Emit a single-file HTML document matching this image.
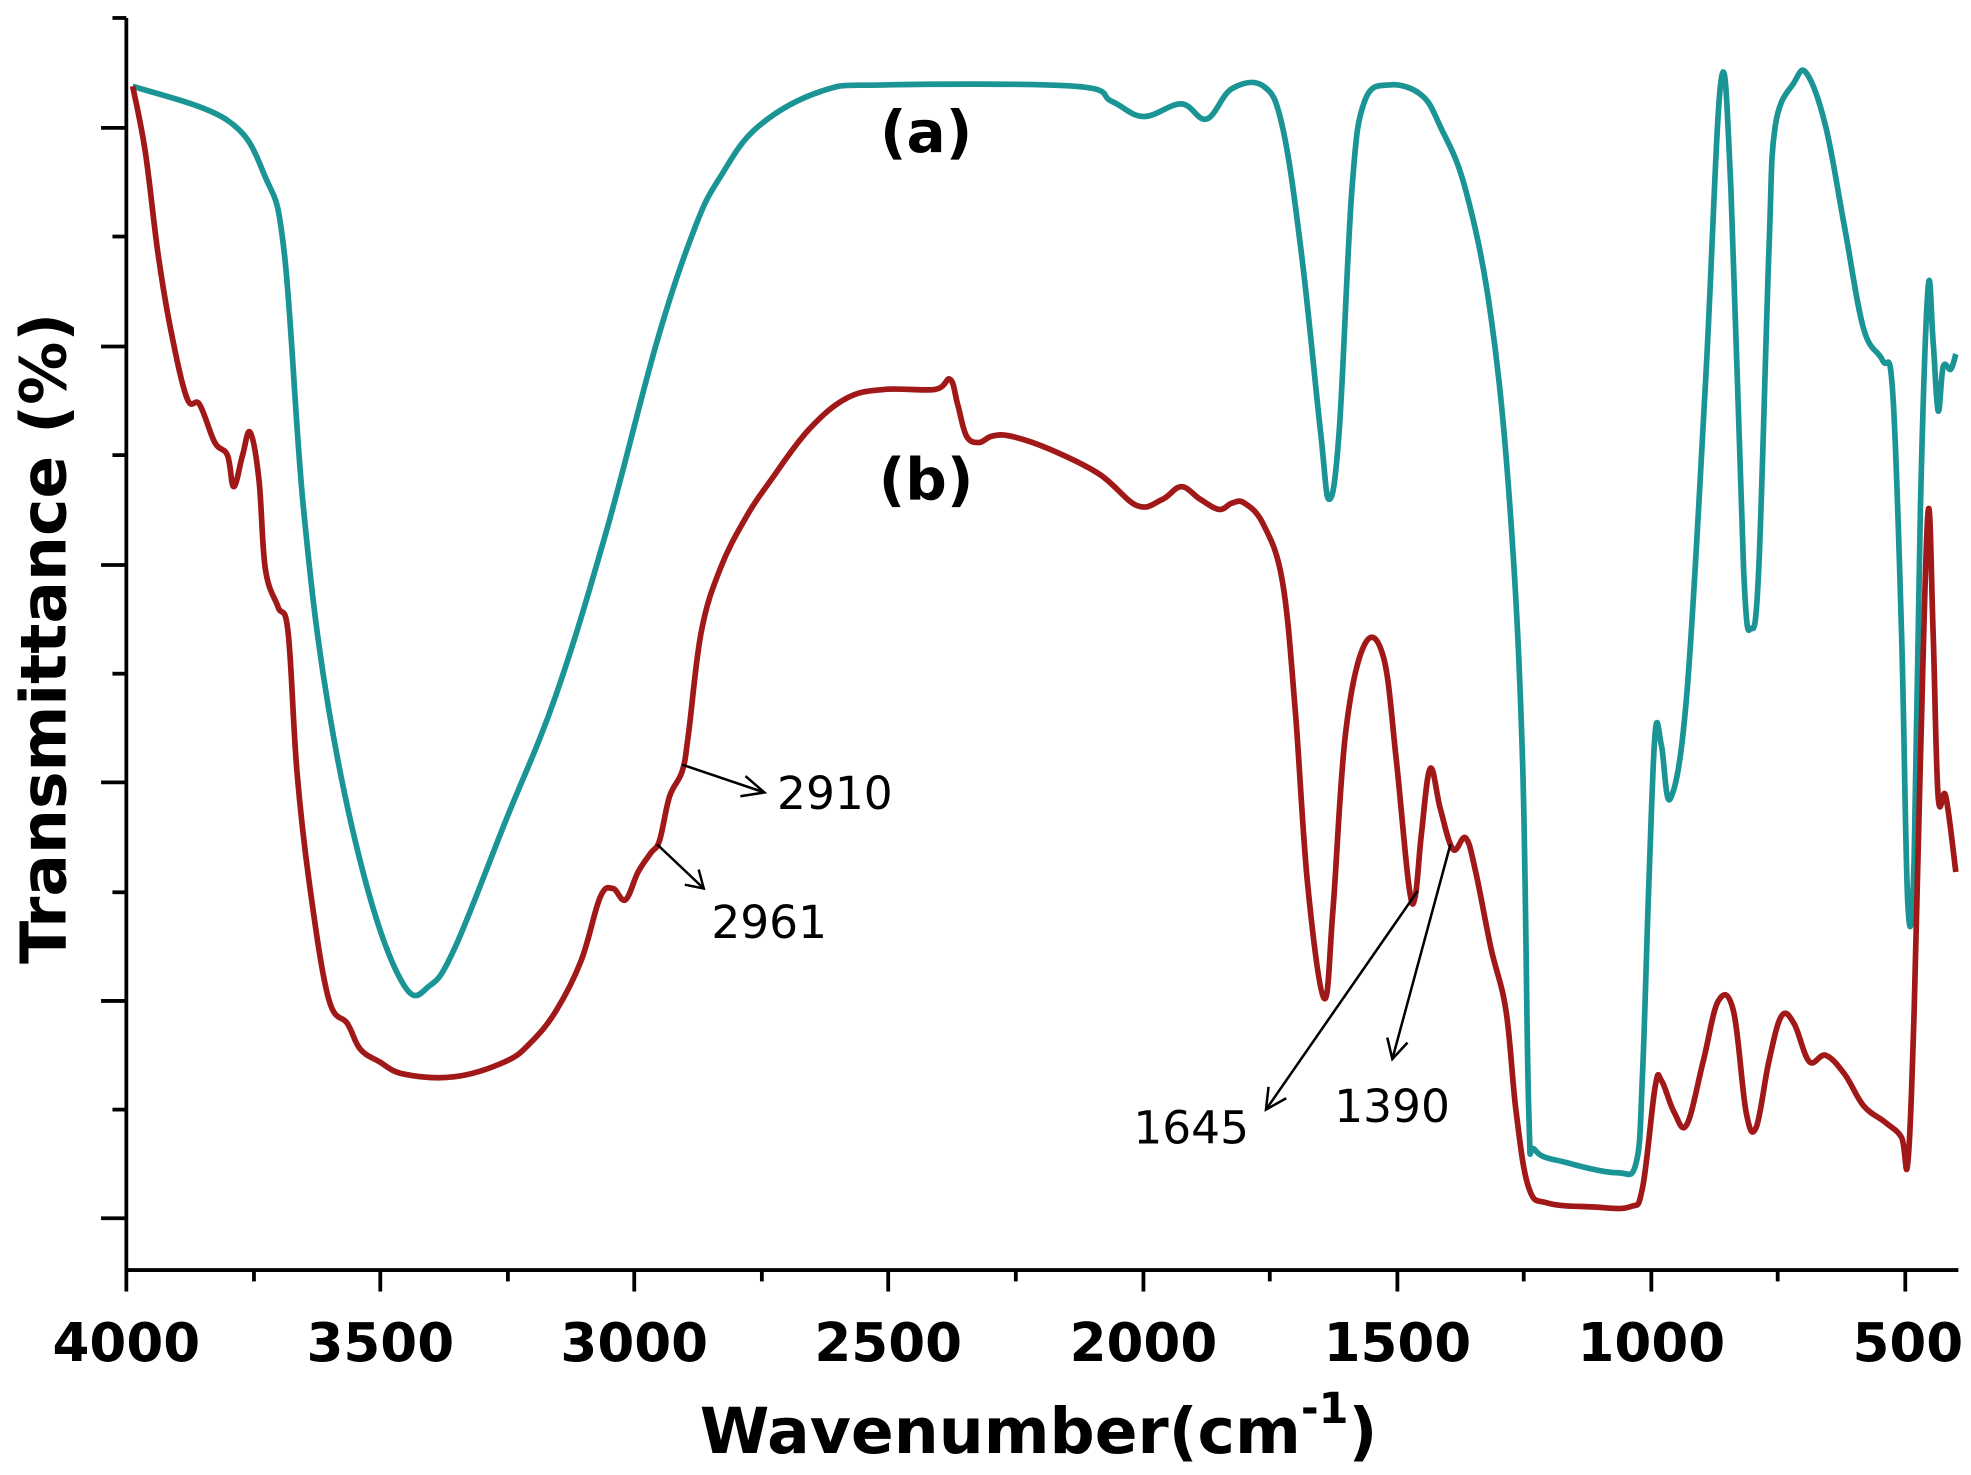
<!DOCTYPE html>
<html><head><meta charset="utf-8"><style>html,body{margin:0;padding:0;background:#fff}svg{display:block}</style></head><body>
<svg width="1971" height="1475" viewBox="0 0 1560 1167" xmlns="http://www.w3.org/2000/svg">
<rect width="1560" height="1167" fill="#fff"/>
<g stroke="#000" stroke-width="3" fill="none">
<polyline points="100,14 100,1005 1550,1005"/>
<line x1="80" y1="101" x2="100" y2="101"/><line x1="80" y1="274" x2="100" y2="274"/><line x1="80" y1="447" x2="100" y2="447"/><line x1="80" y1="619" x2="100" y2="619"/><line x1="80" y1="792" x2="100" y2="792"/><line x1="80" y1="964" x2="100" y2="964"/>
<line x1="89" y1="14" x2="100" y2="14"/><line x1="89" y1="187" x2="100" y2="187"/><line x1="89" y1="360" x2="100" y2="360"/><line x1="89" y1="533" x2="100" y2="533"/><line x1="89" y1="706" x2="100" y2="706"/><line x1="89" y1="878" x2="100" y2="878"/>
<line x1="100" y1="1005" x2="100" y2="1022"/><line x1="301" y1="1005" x2="301" y2="1022"/><line x1="502" y1="1005" x2="502" y2="1022"/><line x1="703" y1="1005" x2="703" y2="1022"/><line x1="905" y1="1005" x2="905" y2="1022"/><line x1="1106" y1="1005" x2="1106" y2="1022"/><line x1="1307" y1="1005" x2="1307" y2="1022"/><line x1="1508" y1="1005" x2="1508" y2="1022"/>
<line x1="201" y1="1005" x2="201" y2="1014"/><line x1="402" y1="1005" x2="402" y2="1014"/><line x1="603" y1="1005" x2="603" y2="1014"/><line x1="804" y1="1005" x2="804" y2="1014"/><line x1="1005" y1="1005" x2="1005" y2="1014"/><line x1="1206" y1="1005" x2="1206" y2="1014"/><line x1="1407" y1="1005" x2="1407" y2="1014"/>
</g>
<g font-family="DejaVu Sans, sans-serif" font-weight="bold" font-size="42" text-anchor="middle" fill="#000">
<text x="100" y="1077">4000</text><text x="301" y="1077">3500</text><text x="502" y="1077">3000</text><text x="703" y="1077">2500</text><text x="905" y="1077">2000</text><text x="1106" y="1077">1500</text><text x="1307" y="1077">1000</text><text x="1510" y="1077">500</text>
<text x="822" y="1150" font-size="50">Wavenumber(cm<tspan font-size="34" dy="-24">-1</tspan><tspan dy="24">)</tspan></text>
<text transform="translate(52,505) rotate(-90)" font-size="50">Transmittance (%)</text>
<text x="733" y="120" font-size="46">(a)</text><text x="733" y="395" font-size="46">(b)</text>
</g>
<path id="ca" fill="none" stroke="#1a9494" stroke-width="4.5" stroke-linejoin="round"/>
<path id="cb" fill="none" stroke="#a01818" stroke-width="4.5" stroke-linejoin="round"/>
<g stroke="#000" stroke-width="2" fill="none">
<line x1="540" y1="605" x2="605" y2="627"/><polyline points="590,614 605,627 586,630"/>
<line x1="520" y1="668" x2="557" y2="703"/><polyline points="542,700 557,703 553,688"/>
<line x1="1122" y1="705" x2="1002" y2="878"/><polyline points="1004,860 1002,878 1018,869"/>
<line x1="1148" y1="668" x2="1102" y2="838"/><polyline points="1098,821 1102,838 1114,825"/>
</g>
<g font-family="DejaVu Sans, sans-serif" font-size="36" fill="#000">
<text x="615" y="640">2910</text><text x="563" y="742">2961</text><text x="897" y="905">1645</text><text x="1056" y="888">1390</text>
</g>
</svg>
<script>
function sm(s){var a=s.trim().split(/\s+/).map(function(p){return p.split(',').map(Number)});
var d='M'+a[0][0]+','+a[0][1];
for(var i=0;i<a.length-1;i++){var p0=a[i>0?i-1:i],p1=a[i],p2=a[i+1],p3=a[i+2<a.length?i+2:i+1];
var t=0.18;
d+=' C'+(p1[0]+(p2[0]-p0[0])*t)+','+(p1[1]+(p2[1]-p0[1])*t)+' '+(p2[0]-(p3[0]-p1[0])*t)+','+(p2[1]-(p3[1]-p1[1])*t)+' '+p2[0]+','+p2[1];}
return d;}
document.getElementById('ca').setAttribute('d',sm("105,68 180,95 210,140 225,200 240,400 260,560 290,700 320,780 340,780 360,750 400,650 440,550 480,420 520,270 550,180 570,140 600,100 650,72 700,67 850,68 880,80 905,92 935,82 955,94 975,70 1000,68 1015,100 1030,200 1045,340 1052,395 1060,340 1070,150 1080,80 1100,67 1125,75 1140,100 1160,150 1180,250 1195,400 1205,600 1210,880 1215,910 1240,920 1280,928 1295,920 1300,850 1305,700 1310,580 1315,590 1322,632 1335,550 1350,300 1362,65 1370,150 1380,450 1386,497 1392,450 1400,200 1405,100 1420,65 1430,58 1445,100 1460,180 1475,260 1490,285 1498,310 1505,500 1510,715 1515,680 1520,400 1526,228 1530,270 1534,325 1538,290 1544,292 1548,280"));
document.getElementById('cb').setAttribute('d',sm("105,68 115,120 125,200 135,260 148,315 158,320 170,350 180,360 185,385 192,360 198,342 205,380 210,450 220,480 228,500 235,610 245,700 260,790 275,810 285,830 300,840 320,850 360,852 400,840 420,825 440,800 460,760 475,710 485,703 495,712 505,690 515,675 522,665 530,630 540,610 545,580 555,500 570,450 590,410 610,380 640,340 670,315 700,308 740,308 752,300 758,320 765,345 775,350 785,345 800,345 830,355 870,375 900,400 920,395 935,385 950,395 965,403 975,398 985,398 1000,415 1015,460 1025,560 1035,700 1048,790 1055,720 1065,580 1080,510 1095,520 1105,600 1115,700 1120,710 1125,660 1132,608 1140,640 1150,672 1160,663 1168,690 1180,750 1192,800 1200,880 1210,940 1225,952 1260,955 1290,955 1300,940 1310,860 1315,855 1325,880 1335,890 1348,840 1360,792 1372,800 1382,880 1390,892 1400,840 1410,804 1420,810 1432,840 1445,835 1460,850 1475,875 1492,888 1505,900 1510,920 1515,800 1520,600 1526,405 1530,500 1534,630 1540,630 1548,690"));
</script>
</body></html>
